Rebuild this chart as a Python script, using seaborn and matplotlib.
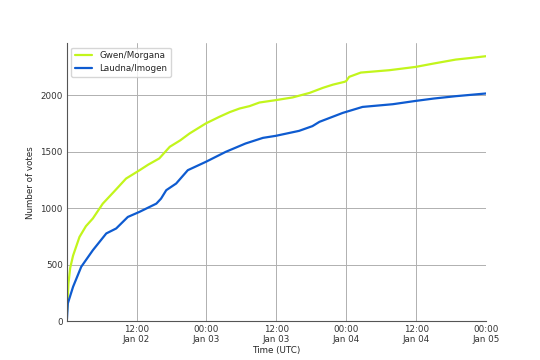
import pandas as pd
import matplotlib.pyplot as plt
import matplotlib.dates as mdates
import seaborn as sns

# hours since 2023-01-02 00:00 UTC, cumulative vote counts
gwen_hours = [0.05, 0.3, 0.6, 1.1, 2.2, 3.3, 4.5, 6.2, 8.2, 10.2, 12.5, 14.0, 15.9, 17.7, 19.5,
              21.1, 23.9, 26.2, 28.0, 29.7, 31.4, 33.1, 35.9, 38.8, 41.7, 44.0, 45.7, 47.7, 48.0,
              48.5, 50.5, 55.4, 59.9, 63.0, 66.8, 69.5, 72.0]
gwen_votes = [80, 330, 470, 580, 745, 840, 909, 1040, 1150, 1262, 1335, 1385, 1440, 1543, 1600,
              1661, 1750, 1808, 1850, 1882, 1903, 1935, 1956, 1980, 2020, 2065, 2093, 2118, 2125,
              2162, 2200, 2221, 2250, 2280, 2315, 2330, 2345]

laudna_hours = [0.05, 0.2, 1.1, 2.5, 4.5, 6.8, 8.5, 10.5, 12.5, 15.4, 16.2, 17.1, 18.8, 20.8, 23.9,
                27.3, 30.7, 33.7, 35.9, 39.9, 42.2, 43.4, 47.4, 50.8, 56.0, 59.9, 63.0, 66.8, 72.0]
laudna_votes = [20, 157, 304, 481, 628, 776, 820, 922, 967, 1040, 1084, 1159, 1218, 1336, 1410,
                1498, 1572, 1622, 1640, 1684, 1726, 1764, 1843, 1896, 1920, 1949, 1970, 1991, 2015]

start = pd.Timestamp("2023-01-02 00:00")

df = pd.concat([
    pd.DataFrame({"time": start + pd.to_timedelta(gwen_hours, unit="h"),
                  "votes": gwen_votes, "pair": "Gwen/Morgana"}),
    pd.DataFrame({"time": start + pd.to_timedelta(laudna_hours, unit="h"),
                  "votes": laudna_votes, "pair": "Laudna/Imogen"}),
])

sns.set_style("whitegrid", {"grid.color": "#b0b0b0", "axes.edgecolor": "#555555"})
plt.rcParams["font.family"] = ["DejaVu Sans"]
plt.rcParams["font.size"] = 6

fig = plt.figure(figsize=(5.4, 3.6), dpi=100)
ax = fig.add_axes([0.124, 0.108, 0.776, 0.772])

sns.lineplot(data=df, x="time", y="votes", hue="pair",
             palette={"Gwen/Morgana": "#c2f51c", "Laudna/Imogen": "#0e5bd0"},
             linewidth=1.6, ax=ax)

ax.set_xlim(start + pd.Timedelta(minutes=3), start + pd.Timedelta(days=3))
ax.set_ylim(0, 2460)
ax.set_yticks([0, 500, 1000, 1500, 2000])
ax.set_xticks([start + pd.Timedelta(hours=h) for h in (12, 24, 36, 48, 60, 72)])
ax.xaxis.set_major_formatter(mdates.DateFormatter("%H:%M\n%b %d"))
ax.tick_params(labelsize=6.3, length=0, pad=3, labelcolor="#333333")
for lbl in ax.get_xticklabels():
    lbl.set_linespacing(1.05)
ax.set_xlabel("Time (UTC)", fontsize=6.3, labelpad=2)
ax.set_ylabel("Number of votes", fontsize=6.3, labelpad=4)
ax.grid(True, linewidth=0.7)
sns.despine(ax=ax)
ax.legend(loc="upper left", fontsize=6.3, frameon=True, title=None)

fig.savefig("out.png", dpi=100)
